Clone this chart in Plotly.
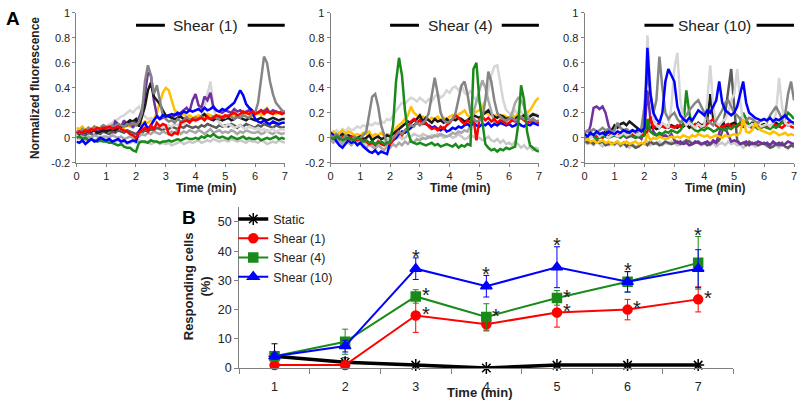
import plotly.graph_objects as go

# ---------------- Panel A data (values in hundredths, sampled every 0.1 min) ----------------
time_min = [i / 10 for i in range(71)]

p1_red = [3,5,4,6,5,7,6,8,7,8, 8,9,7,8,9,7,6,5,3,2, 0,4,6,8,5,10,7,12,9,11, 10,3,2,4,3,12,13,14,12,15,
          14,15,16,14,17,15,16,18,17,16, 18,17,19,20,18,19,21,20,19,21, 19,20,22,19,21,20,19,21,20,19, 20]
p1_blue = [-3,-4,-2,-5,-3,-1,-3,-2,0,-1, -2,-1,-3,-2,-1,-3,-2,-4,-3,-2, -3,5,9,12,7,10,14,17,15,18,
           17,18,19,18,20,19,21,20,22,21, 22,23,21,24,22,23,25,22,21,23, 22,24,26,28,33,38,34,27,24,22,
           15,13,12,14,12,11,13,12,11,12, 12]
p1_green = [0,1,-1,0,-2,-1,-2,-3,-2,-3, -3,-4,-4,-5,-6,-5,-7,-8,-8,-10, -11,-4,-3,-3,-4,-2,-3,-3,-4,-3,
            -3,-2,-3,-2,-1,-2,-1,0,-1,-1, 0,-1,1,0,2,1,3,1,0,1, 0,-1,1,0,-1,0,1,-1,0,-1,
            -1,0,-2,-1,0,-1,0,1,-1,0, -1]
p1_purple = [4,5,3,6,4,5,6,5,7,6, 6,7,5,13,11,9,14,10,12,8, 13,16,22,35,52,50,30,18,15,16,
             17,18,16,19,18,20,22,24,21,30, 35,26,24,33,30,36,24,22,21,20, 22,21,20,23,21,22,20,21,22,20,
             21,20,22,21,23,20,22,21,20,21, 21]
p1_black = [5,3,6,4,7,5,6,4,5,6, 5,6,7,6,8,9,10,12,14,13, 15,9,18,25,38,44,33,30,27,22,
            18,17,16,15,16,17,15,16,14,15, 16,15,17,19,16,15,14,16,15,14, 15,16,14,15,17,16,15,14,16,15,
            14,15,16,15,14,15,16,15,14,15, 15]
p1_gray = [6,4,7,5,8,6,9,7,8,10, 9,8,10,9,11,10,9,11,10,12, 10,13,20,45,58,50,35,42,30,18,
           15,13,14,12,15,13,14,16,15,14, 16,15,17,14,16,15,17,16,15,17, 16,18,17,15,17,16,18,17,16,18,
           20,28,45,65,60,45,35,28,25,22, 20]
p1_gold = [8,7,9,6,8,7,9,8,7,9, 8,9,7,8,10,9,8,10,9,11, 10,12,11,13,12,14,15,20,28,36,
           40,38,30,22,20,18,19,17,18,16, 17,18,16,17,19,18,17,16,18,17, 18,17,19,18,17,19,18,20,19,18,
           19,20,18,22,24,20,21,19,20,21, 20]
p1_lgray = [2,4,3,5,4,6,5,7,8,10, 9,11,12,14,15,17,18,20,22,20, 23,25,20,17,15,16,14,12,10,9,
            8,10,9,11,10,12,11,13,15,14, 13,15,18,25,35,45,25,15,12,10, 9,11,10,8,9,10,8,7,9,8,
            7,8,6,7,5,6,7,5,6,7, 6]
p1_lgray2 = [0,-1,1,-2,0,-1,-2,-1,-3,-2, -3,-2,-4,-3,-2,-4,-3,-5,-4,-3, -4,-2,-3,-4,-3,-5,-4,-3,-5,-4,
             -5,-4,-6,-5,-4,-3,-5,-4,-3,-4, -3,-2,-4,-3,-2,-3,-1,-2,-3,-2, -2,-3,-1,-2,-3,-2,-3,-4,-2,-3,
             -3,-4,-2,-3,-5,-4,-3,-4,-2,-3, -4]
p1_dgray = [2,1,3,2,4,3,2,4,3,5, 4,3,5,4,6,5,4,6,5,4, 3,5,4,6,5,7,6,8,7,6,
            8,7,9,8,7,9,8,10,9,8, 9,8,10,9,11,10,9,8,10,9, 10,9,11,10,8,10,9,11,10,9,
            8,10,9,11,10,9,8,10,9,8, 9]
p1_gray2 = [0,2,1,-1,1,0,2,1,0,1, 1,0,2,1,0,1,-1,0,1,0, -1,1,3,2,4,3,5,4,3,5,
            4,3,5,4,6,3,5,4,6,5, 4,6,5,3,5,7,4,5,6,4, 5,4,6,5,3,5,4,6,5,4,
            4,5,3,4,6,4,3,5,4,3, 4]

p2_green = [0,-1,1,0,-2,-1,0,-1,-2,0, -1,-3,-2,-4,-3,-5,-4,-3,-5,-4, -3,10,45,64,50,22,5,-3,-4,-5,
            -4,-5,-6,-5,-4,-6,-5,-7,-6,-5, -6,-7,-5,-8,-6,-7,-5,-6,55,60, 30,10,-5,-8,-10,-9,-11,-9,-10,-8,
            -9,-8,-7,10,42,30,5,-6,-8,-10, -11]
p2_gray1 = [2,0,3,1,-1,2,0,-2,1,-1, 0,2,5,20,33,35,25,10,2,-5, -3,0,2,5,3,6,8,10,9,12,
            10,12,14,20,35,48,35,20,14,12, 13,15,20,30,42,45,35,20,15,13, 14,16,30,53,45,30,20,17,15,14,
            15,16,14,15,17,15,16,14,15,13, 14]
p2_gray2 = [-2,-4,-1,-3,-5,-2,-4,-6,-3,-5, -4,-6,-8,-5,-7,-9,-6,-8,-10,-7, -8,-5,-7,-4,-6,-3,-5,-2,-4,-1,
            -2,0,-1,1,0,2,1,3,2,1, 2,4,3,5,4,6,5,10,20,30, 38,46,40,30,20,12,10,12,14,13,
            15,20,28,32,30,25,18,14,12,13, 12]
p2_lgray = [5,3,6,4,7,5,8,6,7,9, 8,10,9,11,10,12,11,13,12,15, 14,18,22,25,28,27,30,32,31,29,
            32,30,28,31,29,33,35,32,34,38, 36,40,41,38,42,36,34,38,33,30, 28,26,30,38,50,57,58,45,30,22,
            20,18,22,19,21,17,20,18,16,19, 18]
p2_lgray2 = [-1,-3,0,-2,-4,-1,-3,-5,-2,-4, -3,-5,-4,-6,-3,-5,-2,-4,-3,-1, -2,0,-1,1,-1,0,2,1,3,2,
             1,3,2,0,2,1,3,2,0,1, 2,0,1,3,1,-1,0,2,1,-1, 0,-2,-1,1,-2,-3,-1,-4,-2,-5,
             -4,-6,-3,-5,-8,-6,-9,-7,-10,-8, -9]
p2_red = [1,0,2,-1,1,0,-1,1,0,-2, -1,-2,-3,-5,-4,-6,-3,-5,-6,-4, -5,-2,3,5,2,6,8,13,15,12,
          14,11,12,9,7,8,6,9,7,10, 12,15,18,16,13,11,14,12,16,-2, 15,17,14,16,13,15,12,14,13,11,
          12,14,13,15,16,14,12,13,15,13, 12]
p2_blue = [4,2,-3,-6,-8,-5,-2,-4,-3,-6, -4,-7,-9,-11,-12,-10,-13,-11,-12,-13, -4,-2,0,3,5,4,6,8,10,12,
           14,12,11,10,8,9,7,6,8,5, 6,8,7,9,8,10,11,9,12,10, 9,11,10,12,9,11,10,12,11,10,
           11,9,10,12,10,9,11,10,12,11, 10]
p2_gold = [3,5,2,4,6,3,5,4,2,3, 2,4,3,5,1,3,2,4,1,3, 2,4,8,10,12,15,18,25,20,18,
           16,17,15,14,16,15,17,14,16,15, 17,18,16,19,20,22,18,17,19,21, 22,25,20,19,18,17,19,16,18,17,
           16,18,17,19,16,18,20,22,26,30, 32]
p2_black = [0,2,-1,1,3,0,2,1,-1,0, 1,-1,0,2,-2,0,1,-1,0,2, 1,3,5,7,9,11,13,12,14,15,
            18,13,16,14,12,15,13,14,12,15, 13,15,14,16,15,13,14,16,18,17, 16,18,20,22,19,17,16,18,17,15,
            16,14,15,17,16,18,15,17,19,18, 17]

p3_purple = [0,2,10,24,25,23,25,20,10,3, 2,1,3,2,0,1,2,0,1,-1, 5,38,15,5,2,3,1,2,0,3,
             -2,-4,-3,-5,-4,-6,-5,-3,-4,-5, -4,-3,-5,-2,-4,5,12,8,2,-3, -2,-3,-5,-4,-3,-6,-4,-5,-3,-4,
             -5,-4,-6,-3,-5,-4,-6,-5,-3,-4, -5]
p3_black = [2,0,3,1,4,2,3,5,4,6, 10,8,11,12,10,13,11,9,7,5, 6,10,8,9,7,8,10,9,8,10,
            9,8,10,9,11,8,10,9,12,10, 11,15,35,15,10,9,12,10,9,11, 12,10,11,9,11,10,12,11,9,10,
            11,10,9,11,12,10,13,11,10,12, 11]
p3_blue = [3,1,4,2,5,3,4,2,5,4, 3,5,4,6,5,4,6,5,7,5, 8,72,35,20,15,12,20,45,55,50,
           45,25,18,15,13,16,14,18,22,20, 18,22,20,25,30,45,28,22,20,18, 20,25,35,45,28,20,18,16,15,14,
           15,14,16,13,15,14,16,18,15,13, 12]
p3_lgray = [1,3,0,2,4,1,3,2,0,2, 3,1,2,4,2,3,5,3,2,4, 20,82,40,15,10,8,12,10,8,25,
            55,68,30,15,10,12,10,8,11,9, 10,30,58,25,12,10,13,15,20,30, 35,55,30,12,10,9,11,10,12,9,
            10,11,9,12,20,48,25,12,10,11, 12]
p3_gray = [4,6,5,7,5,6,8,6,7,5, 6,12,8,6,7,5,6,4,5,8, 25,53,35,20,30,65,40,20,15,18,
           20,15,12,15,18,22,25,28,30,25, 20,15,12,10,14,18,22,28,30,25, 20,18,15,12,14,16,15,13,12,14,
           15,13,18,22,25,20,15,18,35,45, 30]
p3_dgray = [-2,-4,-3,-5,-2,-4,-3,-6,-5,-4, -5,-3,-6,-4,-7,-5,-6,-8,-7,-5, -4,-6,-3,-5,-4,-6,-5,-3,-4,-5,
            -4,-3,-5,-4,-2,-3,-5,-4,-3,-5, -4,-6,-5,-3,-4,-2,5,20,40,55, 25,-2,-5,-4,-6,-3,-5,-4,-6,-5,
            -4,-6,-8,-7,-5,-6,-4,-7,-8,-6, -7]
p3_green = [1,0,2,1,-1,0,2,1,0,1, 2,1,0,2,1,3,1,0,2,1, 2,15,5,3,2,4,3,5,4,6,
            5,4,6,10,38,20,8,6,5,7, 6,8,7,5,6,8,7,6,8,7, 9,10,12,20,15,10,8,9,7,8,
            9,8,7,9,8,10,12,15,20,18, 15]
p3_gold = [-2,-1,-3,-2,-4,-3,-2,-4,-3,-5, -4,-3,-5,-4,-3,-5,-4,-3,-5,-4, -5,3,-2,0,-1,1,0,-1,0,1,
           0,1,0,2,1,0,2,1,3,2, 1,2,0,1,2,1,0,2,1,2, 3,2,4,15,5,4,6,12,8,6,
           5,4,3,5,4,2,3,4,2,3, 2]
p3_red = [0,2,1,3,1,2,0,2,1,3, 2,1,3,2,4,2,3,1,2,3, 2,5,17,8,10,12,9,8,10,9,
          8,10,9,11,10,12,9,11,10,8, 9,11,13,15,10,8,9,10,11,9, 10,9,11,10,12,9,8,10,11,9,
          10,8,9,11,10,9,8,10,12,9, 8]
p3_lgray2 = [-3,-5,-4,-6,-3,-5,-7,-4,-6,-5, -6,-4,-7,-5,-6,-8,-5,-7,-6,-4, -5,-3,-6,-4,-5,-3,-6,-4,-5,-3,
             -4,-6,-5,-3,-4,-2,-5,-3,-4,-6, -5,-3,-6,-4,-7,-5,-4,-6,-3,-5, -4,-6,-5,-8,-6,-4,-5,-7,-6,-4,
             -5,-7,-6,-4,-6,-8,-5,-7,-9,-6, -8]

shear_labels = ["Shear (1)", "Shear (4)", "Shear (10)"]
shear_start, shear_end = 2, 7

# ---------------- Panel B data ----------------
time_b = [1, 2, 3, 4, 5, 6, 7]
static_pct = [4, 2, 1, 0, 1, 1, 1]
static_err = [4.3, 1.5, 0.5, 0, 0.5, 0.5, 0.5]
shear1_pct = [1, 1, 18, 15, 19, 20, 23.5]
shear1_err = [0.5, 0.5, 5.8, 2.3, 5, 3.5, 4.3]
shear4_pct = [4, 9, 24.5, 17.5, 24, 29.5, 36]
shear4_err = [1, 4.3, 2.3, 4.5, 2.5, 3.5, 9]
shear10_pct = [4, 7.5, 34, 28, 34.5, 29.5, 34]
shear10_err = [1, 2, 3.7, 3.7, 7, 3.5, 6.5]
star_top = [3, 4, 5, 6, 7]
star_green = [3, 4, 5]
star_red = [3, 5, 6, 7]

C = dict(black="#1a1a1a", red="#ff0000", blue="#0000ff", green="#1a8a1a", purple="#7030a0",
         gold="#ffc000", gray="#858585", lgray="#d6d6d6", lgray2="#c8c8c8", dgray="#5a5a5a",
         gray2="#a8a8a8")

panels = [
    [("lgray2", p1_lgray2), ("gold", p1_gold), ("dgray", p1_dgray), ("gray2", p1_gray2), ("lgray", p1_lgray),
     ("green", p1_green), ("purple", p1_purple), ("black", p1_black), ("gray", p1_gray),
     ("blue", p1_blue), ("red", p1_red)],
    [("lgray", p2_lgray), ("lgray2", p2_lgray2), ("gold", p2_gold), ("black", p2_black), ("gray2", p2_gray2),
     ("blue", p2_blue), ("red", p2_red), ("gray", p2_gray1), ("green", p2_green)],
    [("lgray2", p3_lgray2), ("dgray", p3_dgray), ("purple", p3_purple), ("black", p3_black), ("red", p3_red),
     ("green", p3_green), ("lgray", p3_lgray), ("gray", p3_gray), ("blue", p3_blue), ("gold", p3_gold)],
]

W, H = 800, 406


def fx(p):
    return p / W


def fy(p):
    return 1 - p / H


FONT = "Liberation Sans, Arial, sans-serif"
fig = go.Figure()

for k, traces in enumerate(panels):
    ax = "" if k == 0 else str(k + 1)
    for cname, vals in traces:
        fig.add_trace(go.Scatter(x=time_min, y=[v / 100 for v in vals], mode="lines",
                                 line=dict(color=C[cname], width=2.5), showlegend=False,
                                 xaxis="x" + ax, yaxis="y" + ax, hoverinfo="skip"))

series_b = [("Static", static_pct, static_err, "#000000", "asterisk-open", 10, 3.5),
            ("Shear (1)", shear1_pct, shear1_err, "#ff0000", "circle", 9, 2),
            ("Shear (4)", shear4_pct, shear4_err, "#1a8a1a", "square", 9, 2),
            ("Shear (10)", shear10_pct, shear10_err, "#0000ff", "triangle-up", 10, 2)]
for name, vals, err, col, sym, size, lw in series_b:
    fig.add_trace(go.Scatter(
        x=time_b, y=vals, name=name, mode="lines+markers", xaxis="x4", yaxis="y4",
        line=dict(color=col, width=lw),
        marker=dict(symbol=sym, size=size, color=col, line=dict(color=col, width=1.5)),
        error_y=dict(type="data", array=err, color=col, thickness=1, width=3),
        cliponaxis=False))

top_dom = [fy(162), fy(7)]
xdoms = [[fx(74), fx(284)], [fx(330), fx(540)], [fx(586), fx(797)]]
axis_common = dict(showgrid=False, zeroline=False, showline=True, linecolor="#808080", linewidth=1,
                   ticks="outside", tickcolor="#808080", ticklen=3, ticklabeloverflow="allow",
                   tickfont=dict(family=FONT, size=11, color="#222"))
layout = dict(width=W, height=H, margin=dict(l=0, r=0, t=0, b=0), plot_bgcolor="white",
              paper_bgcolor="white", showlegend=True)
ytv = [-0.2, 0, 0.2, 0.4, 0.6, 0.8, 1]
ytt = ["-0.2", "0", "0.2", "0.4", "0.6", "0.8", "1"]
for k in range(3):
    s = "" if k == 0 else str(k + 1)
    layout["xaxis" + s] = dict(domain=xdoms[k], range=[0, 7], tickvals=list(range(8)), anchor="y" + s,
                               **axis_common)
    layout["yaxis" + s] = dict(domain=top_dom, range=[-0.2, 1], tickvals=ytv, ticktext=ytt,
                               anchor="x" + s, **axis_common)

layout["xaxis4"] = dict(domain=[fx(238), fx(736)], range=[0.5, 7.5], tickvals=time_b, anchor="y4",
                        showgrid=False, zeroline=False, showline=True, linecolor="#808080",
                        ticks="outside", ticklen=7, tickcolor="rgba(0,0,0,0)", ticklabeloverflow="allow",
                        tickfont=dict(family=FONT, size=12.5, color="#222"),
                        minor=dict(tickmode="array", tickvals=[i + 0.5 for i in range(8)],
                                   ticks="outside", ticklen=5, tickcolor="#808080"))
layout["yaxis4"] = dict(domain=[fy(374), fy(208)], range=[0, 55], tickvals=[0, 10, 20, 30, 40, 50],
                        anchor="x4", showgrid=False, zeroline=False, showline=True, linecolor="#808080",
                        ticks="outside", ticklen=4, tickcolor="#808080",
                        tickfont=dict(family=FONT, size=12.5, color="#222"))
layout["legend"] = dict(x=fx(232), y=fy(205), xanchor="left", yanchor="top",
                        font=dict(family=FONT, size=12.5, color="#222"), bgcolor="rgba(0,0,0,0)",
                        itemwidth=30, tracegroupgap=0)
fig.update_layout(**layout)

ann = []
shapes = []
for k in range(3):
    s = "" if k == 0 else str(k + 1)
    ann.append(dict(x=4.35, y=0.9, xref="x" + s, yref="y" + s, text=shear_labels[k], showarrow=False,
                    font=dict(family=FONT, size=15.5, color="#222")))
    shapes.append(dict(type="line", xref="x" + s, yref="y" + s, x0=shear_start, x1=shear_start + 0.97,
                       y0=0.9, y1=0.9, line=dict(color="black", width=3)))
    shapes.append(dict(type="line", xref="x" + s, yref="y" + s, x0=shear_end - 1.25, x1=shear_end,
                       y0=0.9, y1=0.9, line=dict(color="black", width=3)))
    ann.append(dict(x=4.35, y=-0.2, xref="x" + s, yref="y" + s, yshift=-25, text="<b>Time (min)</b>",
                    showarrow=False, font=dict(family=FONT, size=12, color="#222")))

centered = dict(xref="paper", yref="paper", xanchor="center", yanchor="middle", showarrow=False)
ann.append(dict(x=fx(33), y=fy(85), text="<b>Normalized fluorescence</b>", textangle=-90,
                font=dict(family=FONT, size=12, color="#222"), **centered))
ann.append(dict(x=fx(481), y=fy(399.5), text="<b>Time (min)</b>",
                font=dict(family=FONT, size=13, color="#222"), **centered))
ann.append(dict(x=fx(195), y=fy(290), text="<b>Responding cells<br>(%)</b>", textangle=-90,
                font=dict(family=FONT, size=13, color="#222"), **centered))
ann.append(dict(x=fx(10), y=fy(12.5), text="<b>A</b>", font=dict(family=FONT, size=19, color="black"),
                **centered))
ann.append(dict(x=fx(187), y=fy(218), text="<b>B</b>", font=dict(family=FONT, size=19, color="black"),
                **centered))

tops = {t: max(s10 + e10, s4 + e4, s1 + e1) for t, s10, e10, s4, e4, s1, e1 in
        zip(time_b, shear10_pct, shear10_err, shear4_pct, shear4_err, shear1_pct, shear1_err)}
star_font = dict(family=FONT, size=20, color="#222")
for t in star_top:
    ann.append(dict(x=t, y=tops[t] + 2.5, xref="x4", yref="y4", text="*", showarrow=False,
                    font=star_font, yshift=-6))
for t in star_green:
    ann.append(dict(x=t + 0.14, y=shear4_pct[t - 1] + 2.5, xref="x4", yref="y4", text="*",
                    showarrow=False, font=star_font, yshift=-6))
for t in star_red:
    ann.append(dict(x=t + 0.14, y=shear1_pct[t - 1] + 2.5, xref="x4", yref="y4", text="*",
                    showarrow=False, font=star_font, yshift=-6))

fig.update_layout(annotations=ann, shapes=shapes)
fig.write_html("out.html", config={"displayModeBar": False},
               post_script="document.body.style.margin='0';")
